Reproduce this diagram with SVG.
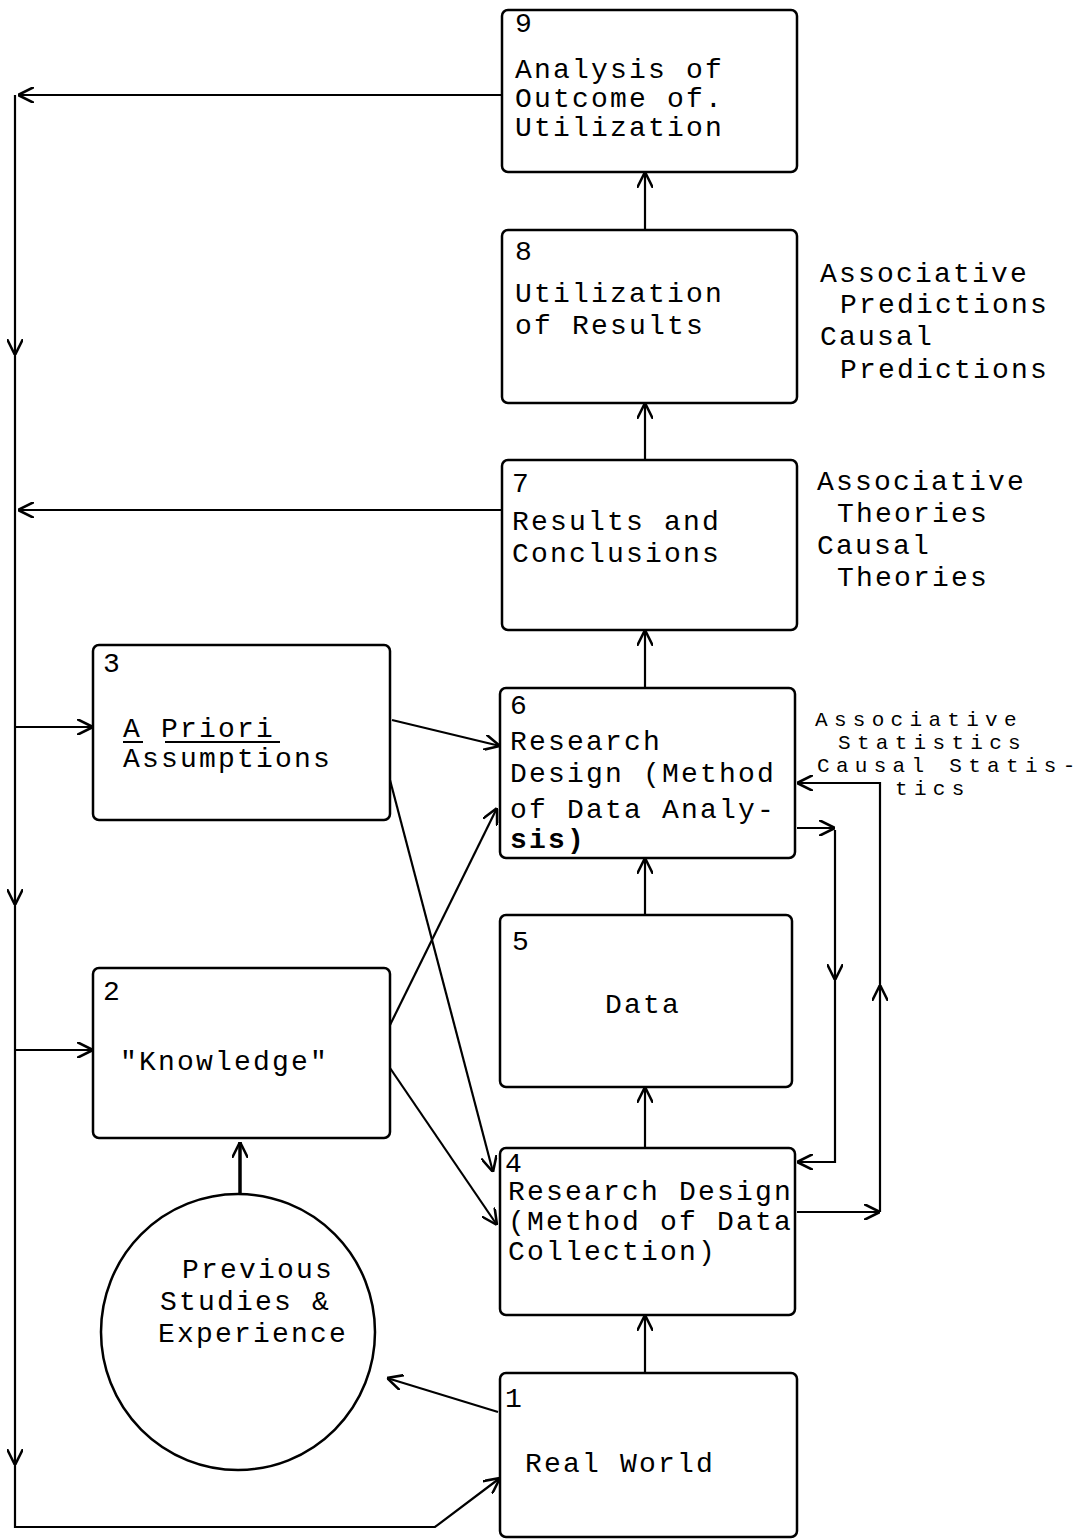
<svg xmlns="http://www.w3.org/2000/svg" width="1090" height="1539" viewBox="0 0 1090 1539">
<style>
.box{fill:#fff;stroke:#000;stroke-width:2.5}
.t{font-family:"Liberation Mono","DejaVu Sans Mono",monospace;font-size:28px;letter-spacing:2.2px;fill:#000}
.s{font-size:21px;letter-spacing:6.3px}
.c{fill:none;stroke:#000;stroke-width:2.2}
</style>
<defs>
<marker id="a" viewBox="0 0 10 10" refX="10" refY="5" markerWidth="16" markerHeight="16" markerUnits="userSpaceOnUse" orient="auto">
<path d="M0,0 L10,5 L0,10" fill="none" stroke="#000" stroke-width="1.6"/>
</marker>
</defs>
<rect width="1090" height="1539" fill="#fff"/>
<g id="connectors" class="c">
<path d="M502,95 H18" marker-end="url(#a)"/>
<path d="M502,510 H18" marker-end="url(#a)"/>
<path d="M15,95 V355" marker-end="url(#a)"/>
<path d="M15,355 V905" marker-end="url(#a)"/>
<path d="M15,905 V1465" marker-end="url(#a)"/>
<path d="M15,1465 V1527 H435 L500,1478" marker-end="url(#a)"/>
<path d="M15,727 H93" marker-end="url(#a)"/>
<path d="M15,1050 H93" marker-end="url(#a)"/>
<path d="M645,230 V172" marker-end="url(#a)"/>
<path d="M645,460 V403" marker-end="url(#a)"/>
<path d="M645,688 V630" marker-end="url(#a)"/>
<path d="M645,915 V858" marker-end="url(#a)"/>
<path d="M645,1148 V1087" marker-end="url(#a)"/>
<path d="M645,1373 V1315" marker-end="url(#a)"/>
<path d="M392,720 L500,746" marker-end="url(#a)"/>
<path d="M390,780 L493,1172" marker-end="url(#a)"/>
<path d="M390,1025 L497,808" marker-end="url(#a)"/>
<path d="M390,1068 L497,1225" marker-end="url(#a)"/>
<path d="M240,1195 V1142" marker-end="url(#a)" stroke-width="3.5"/>
<path d="M498,1412 L387,1378" marker-end="url(#a)"/>
<path d="M797,828 H835" marker-end="url(#a)"/>
<path d="M835,830 V980" marker-end="url(#a)"/>
<path d="M835,980 V1162 H797" marker-end="url(#a)"/>
<path d="M797,1212 H880" marker-end="url(#a)"/>
<path d="M880,1212 V985" marker-end="url(#a)"/>
<path d="M880,985 V783 H797" marker-end="url(#a)"/>
</g>
<g id="n9">
<rect class="box" x="502" y="10" width="295" height="162" rx="6"/>
<text class="t" x="515" y="32">9</text>
<text class="t" x="515" y="78">Analysis of</text>
<text class="t" x="515" y="107">Outcome of.</text>
<text class="t" x="515" y="136">Utilization</text>
</g>
<g id="n8">
<rect class="box" x="502" y="230" width="295" height="173" rx="6"/>
<text class="t" x="515" y="260">8</text>
<text class="t" x="515" y="302">Utilization</text>
<text class="t" x="515" y="334">of Results</text>
</g>
<g id="n7">
<rect class="box" x="502" y="460" width="295" height="170" rx="6"/>
<text class="t" x="512" y="492">7</text>
<text class="t" x="512" y="530">Results and</text>
<text class="t" x="512" y="562">Conclusions</text>
</g>
<g id="n6">
<rect class="box" x="500" y="688" width="295" height="170" rx="6"/>
<text class="t" x="510" y="714">6</text>
<text class="t" x="510" y="750">Research</text>
<text class="t" x="510" y="782">Design (Method</text>
<text class="t" x="510" y="818">of Data Analy-</text>
<text class="t" x="510" y="848" font-weight="bold" font-size="24">sis)</text>
</g>
<g id="n5">
<rect class="box" x="500" y="915" width="292" height="172" rx="6"/>
<text class="t" x="512" y="950">5</text>
<text class="t" x="605" y="1013">Data</text>
</g>
<g id="n4">
<rect class="box" x="500" y="1148" width="295" height="167" rx="6"/>
<text class="t" x="505" y="1172">4</text>
<text class="t" x="508" y="1200">Research Design</text>
<text class="t" x="508" y="1230">(Method of Data</text>
<text class="t" x="508" y="1260">Collection)</text>
</g>
<g id="n3">
<rect class="box" x="93" y="645" width="297" height="175" rx="6"/>
<text class="t" x="103" y="672">3</text>
<text class="t" x="123" y="737">A Priori</text>
<path d="M123,742 H143 M165,742 H280" stroke="#000" stroke-width="2"/>
<text class="t" x="123" y="767">Assumptions</text>
</g>
<g id="n2">
<rect class="box" x="93" y="968" width="297" height="170" rx="6"/>
<text class="t" x="103" y="1000">2</text>
<text class="t" x="120" y="1070">"Knowledge"</text>
</g>
<g id="n0">
<ellipse class="box" cx="238" cy="1332" rx="137" ry="138"/>
<text class="t" x="182" y="1278">Previous</text>
<text class="t" x="160" y="1310">Studies &amp;</text>
<text class="t" x="158" y="1342">Experience</text>
</g>
<g id="n1">
<rect class="box" x="500" y="1373" width="297" height="164" rx="6"/>
<text class="t" x="505" y="1407">1</text>
<text class="t" x="525" y="1472">Real World</text>
</g>
<g id="labels">
<text class="t" x="820" y="282">Associative</text>
<text class="t" x="840" y="313">Predictions</text>
<text class="t" x="820" y="345">Causal</text>
<text class="t" x="840" y="378">Predictions</text>
<text class="t" x="817" y="490">Associative</text>
<text class="t" x="837" y="522">Theories</text>
<text class="t" x="817" y="554">Causal</text>
<text class="t" x="837" y="586">Theories</text>
<text class="t s" x="815" y="726">Associative</text>
<text class="t s" x="838" y="749">Statistics</text>
<text class="t s" x="817" y="772">Causal Statis-</text>
<text class="t s" x="895" y="795">tics</text>
</g>
</svg>
